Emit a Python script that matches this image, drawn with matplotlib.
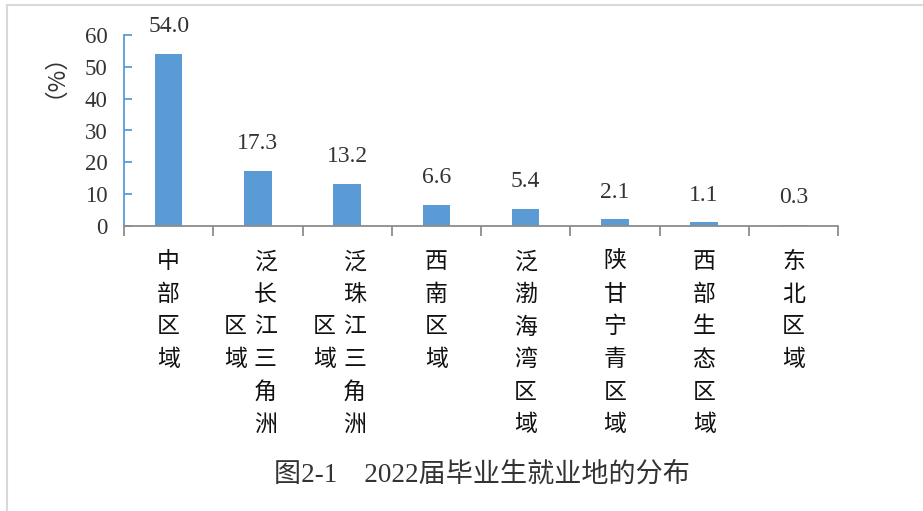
import matplotlib.pyplot as plt
from matplotlib.lines import Line2D

regions = ["中部区域", "泛长江三角洲区域", "泛珠江三角洲区域", "西南区域",
           "泛渤海湾区域", "陕甘宁青区域", "西部生态区域", "东北区域"]
shares = [54.0, 17.3, 13.2, 6.6, 5.4, 2.1, 1.1, 0.3]
yticks = [0, 10, 20, 30, 40, 50, 60]
caption = "图2-1    2022届毕业生就业地的分布"

num_font = ["Liberation Serif", "Noto Sans CJK SC"]
cjk_font = ["Noto Sans CJK SC", "DejaVu Sans"]
bar_color = "#5B9BD5"
grey = "#8C8C8C"

fig = plt.figure(figsize=(9.23, 5.11), dpi=100)
ax = fig.add_axes([124 / 923, 1 - 226 / 511, 714 / 923, 191 / 511])

x = list(range(len(regions)))
ax.bar(x, shares, width=0.31, color=bar_color, zorder=2)
ax.set_xlim(-0.5, len(regions) - 0.5)
ax.set_ylim(0, 60)

for xi, v in zip(x, shares):
    ax.annotate(f"{v:.1f}", (xi, v), xytext=(0, 12), textcoords="offset points",
                ha="center", va="bottom", fontsize=17, family=num_font,
                color="#333333", annotation_clip=False)

# vertical category labels, at most 6 characters per column
for xi, name in zip(x, regions):
    cols = [name[i:i + 6] for i in range(0, len(name), 6)]
    ncol = len(cols)
    for c, col in enumerate(cols):
        dx = (ncol - 1) * 10.8 / 2 - c * 21.6 if ncol > 1 else 0
        start = (6 - len(col)) / 2 if c > 0 else 0
        for r, ch in enumerate(col):
            ax.annotate(ch, (xi, 0), xycoords=("data", "axes fraction"),
                        xytext=(dx, -(25.7 + 23.5 * (start + r))),
                        textcoords="offset points", ha="center", va="center",
                        fontsize=16.5, family=cjk_font, color="#111111",
                        annotation_clip=False)

ax.set_xticks([i - 0.5 for i in range(len(regions) + 1)])
ax.set_xticklabels([])
ax.tick_params(axis="x", direction="out", length=7, width=1.3, color=grey)
ax.set_yticks(yticks)
ax.set_yticklabels([str(t) for t in yticks], family=num_font, fontsize=16.5,
                   color="#333333")
ax.tick_params(axis="y", direction="in", length=6, width=1.3, color=bar_color,
               pad=12)

for s in ["top", "right"]:
    ax.spines[s].set_visible(False)
ax.spines["left"].set_color(bar_color)
ax.spines["left"].set_linewidth(1.3)
ax.spines["bottom"].set_color(grey)
ax.spines["bottom"].set_linewidth(1.3)

fig.text(43 / 923, 1 - 64 / 511, "（%）", rotation=90, ha="center", va="center",
         fontsize=17, family=cjk_font, color="#333333")
fig.text(482 / 923, 1 - 475 / 511, caption, ha="center", va="center",
         fontsize=19.5, family=num_font, color="#333333")

# light page frame on top and left
fig.add_artist(Line2D([7 / 923, 1], [1 - 5.5 / 511] * 2, color="#D9D9D9", lw=1.5))
fig.add_artist(Line2D([7.5 / 923] * 2, [0, 1 - 5.5 / 511], color="#D9D9D9", lw=1.5))

fig.savefig("out.png", dpi=100)
